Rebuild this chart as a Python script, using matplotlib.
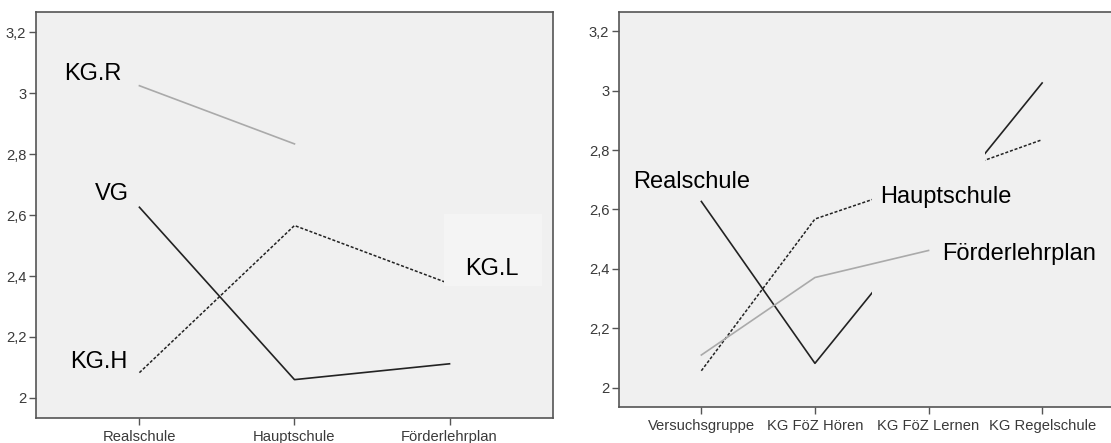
import numpy as np
import matplotlib
matplotlib.use('Agg')
import matplotlib.pyplot as plt
from matplotlib.patches import Rectangle

plt.rcParams['font.family'] = ['Liberation Sans', 'DejaVu Sans']

# left chart: school type on x, one line per group
left_cats = ['Realschule', 'Hauptschule', 'Förderlehrplan']
left_vg = [2.626, 2.060, 2.112]
left_kgh = [2.083, 2.566, 2.375]
left_kgr = [3.025, 2.834, np.nan]

# right chart: group on x, one line per school type
right_cats = ['Versuchsgruppe', 'KG FöZ Hören', 'KG FöZ Lernen', 'KG Regelschule']
right_real = [2.627, 2.082, 2.554, 3.026]
right_haupt = [2.057, 2.568, 2.698, 2.835]
right_foerder = [2.110, 2.371, 2.462, np.nan]

yticks = [2.0, 2.2, 2.4, 2.6, 2.8, 3.0, 3.2]
ytick_labels = ['2', '2,2', '2,4', '2,6', '2,8', '3', '3,2']

bg = '#f0f0f0'
spine_col = '#555555'
tick_col = '#3a3a3a'
dark = '#222222'
light = '#aaaaaa'
dotted = (0, (2, 1.2))

fig = plt.figure(figsize=(11.11, 4.43), dpi=100)
ax1 = fig.add_axes([0.0324, 0.0564, 0.4653, 0.9158])
ax2 = fig.add_axes([0.5572, 0.0806, 0.4549, 0.8930])


def style(ax, cats, margin):
    ax.set_facecolor(bg)
    ax.set_ylim(1.934, 3.266)
    ax.set_xlim(-margin, len(cats) - 1 + margin)
    ax.set_xticks(range(len(cats)))
    ax.set_xticklabels(cats)
    ax.set_yticks(yticks)
    ax.set_yticklabels(ytick_labels)
    for s in ax.spines.values():
        s.set_color(spine_col)
        s.set_linewidth(1.2)
    ax.tick_params(direction='out', length=5, width=1, color=spine_col,
                   labelsize=10.6, labelcolor=tick_col, pad=2,
                   top=False, right=False)
    ax.tick_params(axis='x', pad=3.5)


style(ax1, left_cats, 0.667)
x1 = np.arange(len(left_cats))
ax1.plot(x1, left_kgr, color=light, lw=1.2, zorder=2)
ax1.plot(x1, left_vg, color=dark, lw=1.2, zorder=2)
ax1.plot(x1, left_kgh, color=dark, lw=1.1, ls=dotted, zorder=2)

# lighter box behind the KG.L label (covers the line end)
ax1.add_patch(Rectangle((1.966, 2.367), 0.628, 0.237, facecolor='#f4f4f4',
                        edgecolor='none', zorder=3))

big = dict(fontsize=17, color='black', ha='center', va='baseline', zorder=4)
ax1.text(-0.30, 3.043, 'KG.R', **big)
ax1.text(-0.178, 2.650, 'VG', **big)
ax1.text(-0.262, 2.097, 'KG.H', **big)
ax1.text(2.27, 2.405, 'KG.L', **big)

style(ax2, right_cats, 0.7245)
x2 = np.arange(len(right_cats))
ax2.plot(x2, right_real, color=dark, lw=1.2, zorder=2)
ax2.plot(x2, right_haupt, color=dark, lw=1.1, ls=dotted, zorder=2)
# middle part of the two lines is blanked out in the original
ax2.axvspan(1.5, 2.5, color=bg, lw=0, zorder=2.2)
ax2.plot(x2, right_foerder, color=light, lw=1.2, zorder=3)

ax2.text(-0.085, 2.672, 'Realschule', **big)
ax2.text(2.154, 2.622, 'Hauptschule', **big)
ax2.text(2.796, 2.430, 'Förderlehrplan', **big)

fig.savefig('out.png', dpi=100, facecolor='white')
